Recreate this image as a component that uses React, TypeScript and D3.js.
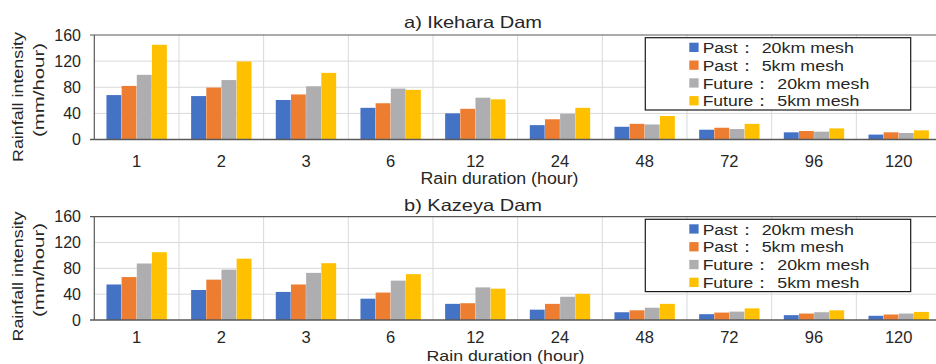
import React from 'react';
import { scaleBand, scaleLinear } from 'd3';

const durations = ['1', '2', '3', '6', '12', '24', '48', '72', '96', '120'];
const seriesNames = ['Past：  20km mesh', 'Past：  5km mesh', 'Future：  20km mesh', 'Future：  5km mesh'];
const seriesColors = ['#4472C4', '#ED7D31', '#AEAEB0', '#FFC000'];
const yTicks = [0, 40, 80, 120, 160];

// a) Ikehara Dam
const ikeharaPast20 = [68, 66.5, 60.5, 48.5, 40, 22, 19.5, 15, 11, 7.5];
const ikeharaPast5 = [82, 79.5, 69, 55.5, 47, 31, 24, 18, 13, 11];
const ikeharaFuture20 = [99, 91, 81.5, 78, 64, 39.5, 23, 16, 12, 10];
const ikeharaFuture5 = [145, 119.5, 102, 76, 61.5, 48.5, 36, 24, 17, 14];

// b) Kazeya Dam
const kazeyaPast20 = [55, 46.5, 43.5, 33, 25, 16, 12, 9, 7.5, 6.5];
const kazeyaPast5 = [66.5, 62.5, 55, 42.5, 26, 25, 15, 11.5, 10, 8.5];
const kazeyaFuture20 = [87.5, 78, 73, 61, 50.5, 36, 19, 13, 12, 10];
const kazeyaFuture5 = [105, 95, 88, 71, 48.5, 40.5, 25, 18, 15, 12.5];

const FONT = '"Liberation Sans", Arial, sans-serif';

const left = 94.3;
const right = 941;

const panels = [
  {
    title: 'a) Ikehara Dam',
    series: [ikeharaPast20, ikeharaPast5, ikeharaFuture20, ikeharaFuture5],
    top: 35, bottom: 139.5,
    titleY: 28,
    xTitle: { x: 499.5, y: 183.5, size: 16.3 },
    yTitle1: { x: 23, y: 97 },
    yTitle2: { x: 44, y: 90 },
    legendTop: 37.7,
    tickY: 166.5,
  },
  {
    title: 'b) Kazeya Dam',
    series: [kazeyaPast20, kazeyaPast5, kazeyaFuture20, kazeyaFuture5],
    top: 216.7, bottom: 320,
    titleY: 210.5,
    xTitle: { x: 505.5, y: 360.6, size: 15 },
    yTitle1: { x: 23, y: 276.5 },
    yTitle2: { x: 44, y: 270 },
    legendTop: 219.3,
    tickY: 343,
  },
];

const legendNameEnds = [854, 844, 869.3, 859.3];

const Panel = ({ p }: { p: typeof panels[number] }) => {
  const x0 = scaleBand<string>().domain(durations).range([left, right]).paddingInner(0.28).paddingOuter(0.14);
  const x1 = scaleBand<number>().domain([0, 1, 2, 3]).range([0, x0.bandwidth()]).padding(0.02);
  const y = scaleLinear().domain([0, 160]).range([p.bottom, p.top]);
  const step = x0.step();
  const gridXs = durations.map((_, i) => left + step * (i + 1));

  return (
    <g>
      {/* gridlines */}
      {yTicks.filter(t => t > 0 && t < 160).map(t => (
        <line key={'h' + t} x1={left} x2={right} y1={y(t)} y2={y(t)} stroke="#D9D9D9" strokeWidth={1} />
      ))}
      {gridXs.map((gx, i) => (
        <line key={'v' + i} x1={gx} x2={gx} y1={p.top} y2={p.bottom} stroke="#D9D9D9" strokeWidth={1} />
      ))}

      {/* bars */}
      {p.series.map((vals, si) =>
        vals.map((v, i) => (
          <rect
            key={si + '-' + i}
            x={(x0(durations[i]) as number) + (x1(si) as number)}
            y={y(v)}
            width={x1.bandwidth()}
            height={y(0) - y(v)}
            fill={seriesColors[si]}
          />
        ))
      )}

      {/* frame */}
      <line x1={90} x2={right} y1={y(160)} y2={y(160)} stroke="#595959" strokeWidth={1.2} />
      <line x1={90} x2={right} y1={y(0)} y2={y(0)} stroke="#595959" strokeWidth={1.4} />
      <line x1={left} x2={left} y1={y(160)} y2={y(0)} stroke="#595959" strokeWidth={1.2} />

      {/* y ticks */}
      {yTicks.map(t => (
        <text key={'yt' + t} x={81} y={y(t)} dy="0.36em" textAnchor="end" fontSize={16} fill="#262626" fontFamily={FONT}>
          {t}
        </text>
      ))}

      {/* x ticks */}
      {durations.map(d => (
        <text key={'xt' + d} x={(x0(d) as number) + x0.bandwidth() / 2} y={p.tickY} textAnchor="middle" fontSize={16.5} fill="#262626" fontFamily={FONT}>
          {d}
        </text>
      ))}

      {/* titles */}
      <text x={404} y={p.titleY} fontSize={16.5} fill="#262626" fontFamily={FONT} textLength={138} lengthAdjust="spacingAndGlyphs">
        {p.title}
      </text>
      <text x={p.xTitle.x} y={p.xTitle.y} textAnchor="middle" fontSize={p.xTitle.size} fill="#262626" fontFamily={FONT} textLength={158} lengthAdjust="spacingAndGlyphs">
        Rain duration (hour)
      </text>
      <text transform={`translate(${p.yTitle1.x},${p.yTitle1.y}) rotate(-90)`} textAnchor="middle" fontSize={15.5} fill="#262626" fontFamily={FONT} textLength={130} lengthAdjust="spacingAndGlyphs">
        Rainfall intensity
      </text>
      <text transform={`translate(${p.yTitle2.x},${p.yTitle2.y}) rotate(-90)`} textAnchor="middle" fontSize={15.5} fill="#262626" fontFamily={FONT} textLength={94} lengthAdjust="spacingAndGlyphs">
        (mm/hour)
      </text>

      {/* legend */}
      <rect x={645.3} y={p.legendTop} width={265.4} height={72.3} fill="#FFFFFF" stroke="#1A1A1A" strokeWidth={1.2} />
      {seriesNames.map((name, si) => {
        const rowTop = p.legendTop + 5 + si * 17.8;
        const [head, tail] = name.split('：');
        const tailX = si < 2 ? 761.7 : 777.3;
        return (
          <g key={'lg' + si}>
            <rect x={689.3} y={rowTop} width={9.3} height={9.3} fill={seriesColors[si]} />
            <text y={rowTop + 10.3} fontSize={15.5} fill="#262626" fontFamily={FONT}>
              <tspan x={702.7} textLength={tailX - 702.7 - 6} lengthAdjust="spacingAndGlyphs">{head + '：'}</tspan>
              <tspan x={tailX} textLength={legendNameEnds[si] - tailX} lengthAdjust="spacingAndGlyphs">{tail.trim()}</tspan>
            </text>
          </g>
        );
      })}
    </g>
  );
};

export default function App() {
  return (
    <svg
      width={936}
      height={364}
      style={{ position: 'absolute', left: 0, top: 0, background: '#FFFFFF', display: 'block' }}
    >
      <rect x={0} y={0} width={936} height={364} fill="#FFFFFF" />
      {panels.map(p => (
        <Panel key={p.title} p={p} />
      ))}
    </svg>
  );
}
